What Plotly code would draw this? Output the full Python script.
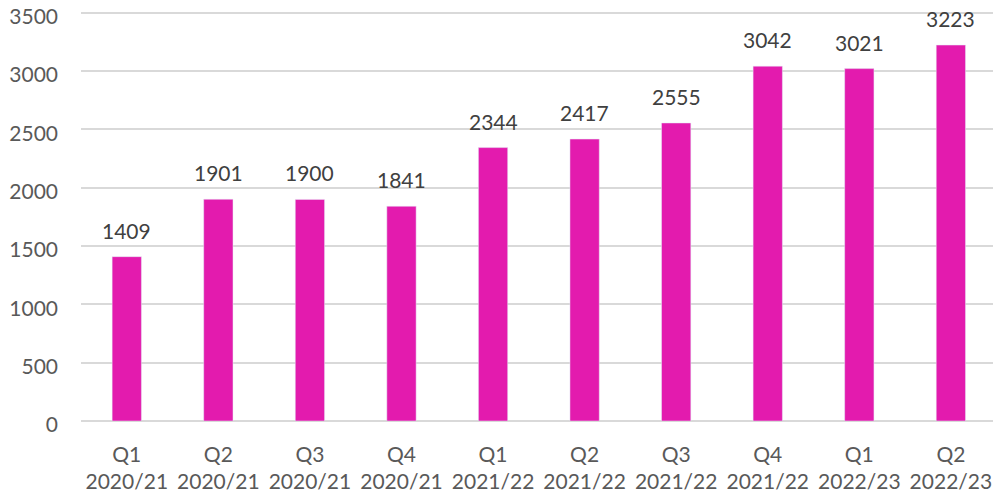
import plotly.graph_objects as go

quarters = ["Q1", "Q2", "Q3", "Q4", "Q1", "Q2", "Q3", "Q4", "Q1", "Q2"]
years = ["2020/21", "2020/21", "2020/21", "2020/21", "2021/22", "2021/22", "2021/22", "2021/22", "2022/23", "2022/23"]
values = [1409, 1901, 1900, 1841, 2344, 2417, 2555, 3042, 3021, 3223]
y_ticks = [0, 500, 1000, 1500, 2000, 2500, 3000, 3500]

categories = [f"{q}<br>{y}" for q, y in zip(quarters, years)]

FONT = "Lato"
GREY = "#595959"

fig = go.Figure(go.Bar(x=categories, y=values, marker_color="#E31BAE", width=0.32))

for c, v in zip(categories, values):
    fig.add_annotation(x=c, y=v, text=str(v), showarrow=False, yanchor="bottom",
                       yshift=12, font=dict(family=FONT, size=21, color="#404040"))

fig.update_layout(
    width=993, height=494,
    margin=dict(l=81, r=0, t=11, b=73),
    plot_bgcolor="white", paper_bgcolor="white",
    showlegend=False,
    font=dict(family=FONT, size=21, color=GREY),
)
fig.update_xaxes(type="category", range=[-0.5, 9.46], showgrid=False, showline=False,
                 automargin=False, ticklabeloverflow="allow",
                 ticks="", ticklabelstandoff=19, tickfont=dict(family=FONT, size=21, color=GREY))
fig.update_yaxes(range=[0, 3515], tickvals=y_ticks, showgrid=True, gridcolor="#D9D9D9",
                 automargin=False, ticklabeloverflow="allow", ticklabelshift=4,
                 gridwidth=2, zeroline=True, zerolinecolor="#D9D9D9", zerolinewidth=2,
                 ticks="", ticklabelstandoff=22, tickfont=dict(family=FONT, size=21, color=GREY))

fig.write_html("out.html", config={"displayModeBar": False},
               post_script="document.body.style.margin='0';document.body.style.overflow='hidden';")
